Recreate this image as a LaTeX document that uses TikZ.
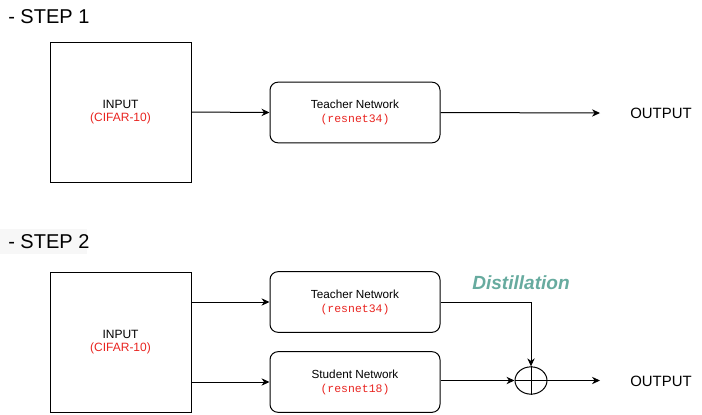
\documentclass[tikz,border=0pt]{standalone}
\usepackage{fontspec}
\setmainfont{Liberation Sans}
\setmonofont{Liberation Mono}
\usepackage{tikz}
\usetikzlibrary{positioning, calc, arrows.meta, shapes.geometric}
\definecolor{codered}{RGB}{232,35,31}
\definecolor{distteal}{RGB}{103,171,159}
\newcommand{\archname}[1]{{\color{codered}\ttfamily\fontsize{8.6}{10}\selectfont #1}}

\begin{document}
\begin{tikzpicture}[x=0.75pt,y=0.75pt,yscale=-1,xscale=1,
	inbox/.style={draw, line width=0.75pt, minimum width=105.75pt, minimum height=105pt, align=center, font=\fontsize{9}{10}\selectfont},
	netbox/.style={draw, line width=0.75pt, rounded corners=6pt, minimum width=127.5pt, minimum height=45.5pt, align=center, font=\fontsize{8.8}{10.5}\selectfont},
	steplabel/.style={anchor=west, inner sep=0pt, font=\fontsize{15}{18}\selectfont},
	outlabel/.style={font=\fontsize{11.2}{13}\selectfont},
	conn/.style={line width=0.75pt, -{Stealth[length=6pt,width=5.5pt]}}
	]
	\useasboundingbox (0,0) rectangle (702,414);

	% STEP 1
	\node [steplabel] (step1) at (8,17) {- STEP 1};
	\node [inbox] (in1) at (120.5,112) {INPUT\\{\color{codered}(CIFAR-10)}};
	\node [netbox] (tea1) at (355,112.5) {Teacher Network\\\archname{(resnet34)}};
	\node [outlabel] (out1) at (661,113) {OUTPUT};
	\coordinate (end1) at (600,113);

	\draw [conn] (in1.east) -- (tea1.west);
	\draw [conn] (tea1.east) -- (end1);

	% STEP 2
	\fill [gray!6] (0,229) rectangle (87,254);
	\node [steplabel] (step2) at (8,242) {- STEP 2};
	\node [inbox] (in2) at (120.5,342) {INPUT\\{\color{codered}(CIFAR-10)}};
	\node [netbox] (tea2) at (355,302) {Teacher Network\\\archname{(resnet34)}};
	\node [netbox] (stu2) at (355,382) {Student Network\\\archname{(resnet18)}};
	\node [ellipse, draw, line width=0.75pt, minimum width=24pt, minimum height=20.5pt, inner sep=0pt] (sum) at (531,380.5) {};
	\draw [line width=0.75pt] (sum.north) -- (sum.south) (sum.west) -- (sum.east);
	\node [text=distteal, font=\bfseries\itshape\fontsize{14.3}{16}\selectfont] (dist) at (521,283) {Distillation};
	\node [outlabel] (out2) at (661,381) {OUTPUT};
	\coordinate (end2) at (600,380.5);

	\draw [conn] (in2.east |- tea2.west) -- (tea2.west);
	\draw [conn] (in2.east |- stu2.west) -- (stu2.west);
	\draw [conn] (tea2.east) -| (sum.north);
	\draw [conn] (stu2.east |- sum.west) -- (sum.west);
	\draw [conn] (sum.east) -- (end2);

\end{tikzpicture}
\end{document}
